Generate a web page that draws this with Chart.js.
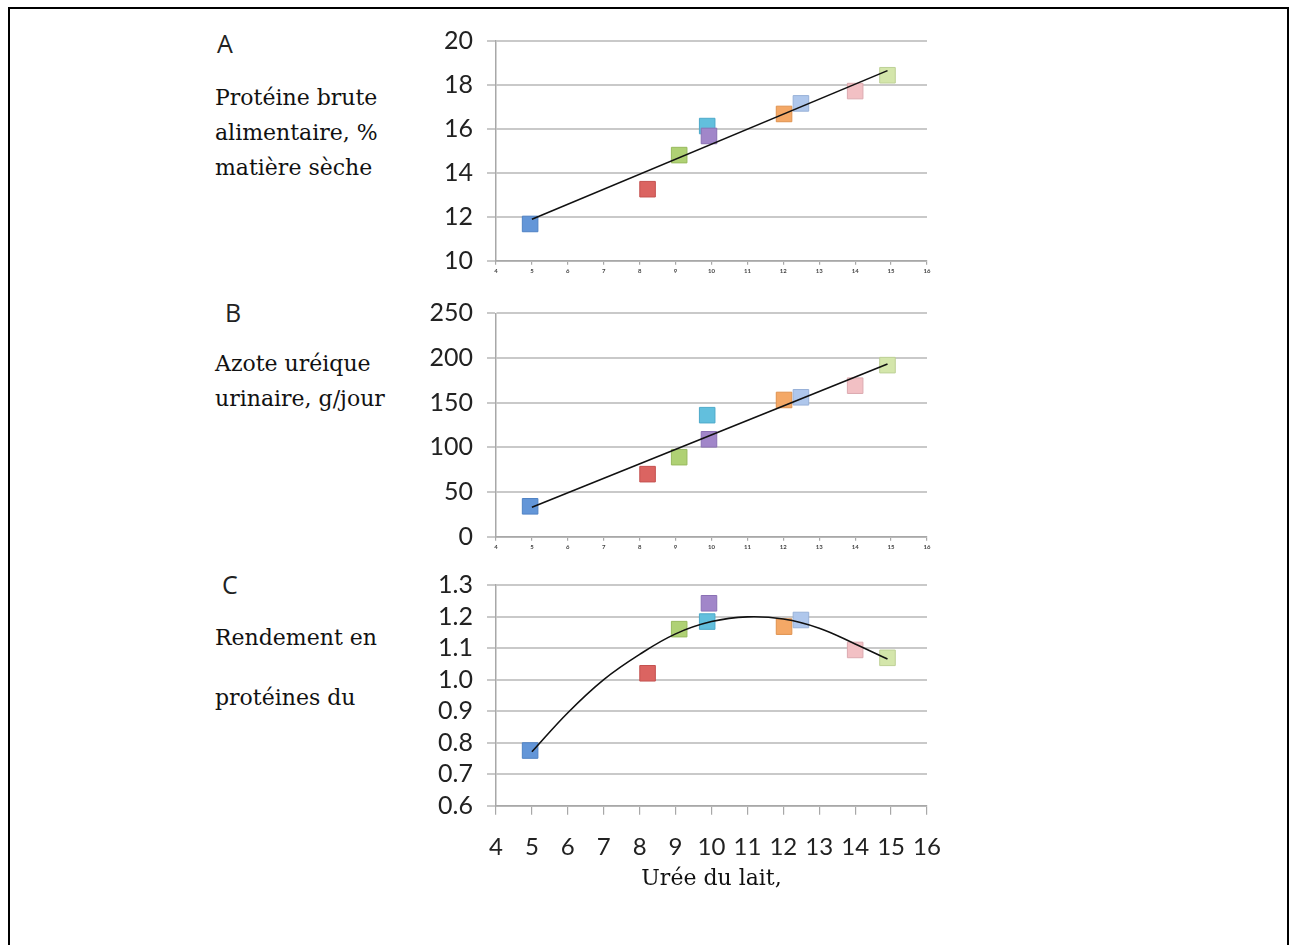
<!DOCTYPE html>
<html>
<head>
<meta charset="utf-8">
<script src="https://cdn.jsdelivr.net/npm/chart.js@4/dist/chart.umd.min.js"></script>
<style>
  body { margin: 0; background: #fff; width: 1294px; height: 945px; overflow: hidden; position: relative; }
  .frame { position: absolute; left: 8px; top: 7px; width: 1277px; height: 960px; border: 2px solid #000; }
  .box { position: absolute; }
  .letter { position: absolute; font-family: "Open Sans", sans-serif; font-size: 25px; line-height: 1; color: #222; }
  .lab { position: absolute; font-family: "DejaVu Serif", serif; font-size: 22px; line-height: 35px; color: #111; white-space: nowrap; }
</style>
</head>
<body>
<div class="frame"></div>

<div class="letter" style="left:217px; top:31px;">A</div>
<div class="lab" style="left:215px; top:80px;">Protéine brute<br>alimentaire, %<br>matière sèche</div>

<div class="letter" style="left:225px; top:300px;">B</div>
<div class="lab" style="left:215px; top:346px;">Azote uréique<br>urinaire, g/jour</div>

<div class="letter" style="left:222px; top:572px;">C</div>
<div class="lab" style="left:215px; top:620px;">Rendement en</div>
<div class="lab" style="left:215px; top:680px;">protéines du</div>

<div class="box" style="left:400px; top:20px; width:560px; height:270px;"><canvas id="chartA"></canvas></div>
<div class="box" style="left:400px; top:290px; width:560px; height:270px;"><canvas id="chartB"></canvas></div>
<div class="box" style="left:400px; top:560px; width:560px; height:340px;"><canvas id="chartC"></canvas></div>

<script>
// milk urea (x) for each herd point
const uree = [4.95, 8.22, 9.1, 9.88, 9.93, 12.02, 12.49, 14.0, 14.9];
const proteineBrute = [11.67, 13.25, 14.8, 16.12, 15.67, 16.67, 17.15, 17.71, 18.43];
const azoteUrinaire = [34, 70, 89, 136, 109, 153, 156, 169, 192];
const rendement = [0.775, 1.02, 1.16, 1.184, 1.242, 1.168, 1.189, 1.094, 1.069];

const pointColors = ['#6396d8', '#db6461', '#afd174', '#62bfdd', '#a186c9', '#f4a866', '#afc7ec', '#f2c0c4', '#d4e6ab'];
const pointBorders = ['#4f82c4', '#c45250', '#98ba5e', '#4eaaca', '#8a70b4', '#df924f', '#98b1d8', '#dcaab0', '#bed196'];

// trend lines
const trendAX = [5, 14.9];
const trendAY = [11.88, 18.64];
const trendBX = [5, 14.9];
const trendBY = [32.9, 193.2];
const curveCX = [5, 6, 7, 8, 9, 10, 11, 12, 13, 14, 14.9];
const curveCY = [0.771, 0.895, 1.0, 1.08, 1.145, 1.184, 1.199, 1.192, 1.163, 1.113, 1.065];

const xTicks = [4, 5, 6, 7, 8, 9, 10, 11, 12, 13, 14, 15, 16];

const toXY = (xs, ys) => xs.map((x, i) => ({ x: x, y: ys[i] }));

function makeChart(id, opts) {
    const ctx = document.getElementById(id).getContext('2d');
    return new Chart(ctx, {
        type: 'scatter',
        data: {
            datasets: [
                {
                    type: 'line',
                    data: toXY(opts.lineX, opts.lineY),
                    borderColor: '#111',
                    borderWidth: 1.6,
                    pointRadius: 0,
                    fill: false,
                    tension: opts.curved ? 0.4 : 0,
                },
                {
                    data: toXY(uree, opts.values),
                    pointStyle: 'rect',
                    pointRadius: 11,
                    pointHoverRadius: 11,
                    backgroundColor: pointColors,
                    borderColor: pointBorders,
                    borderWidth: 1,
                },
            ],
        },
        options: {
            responsive: true,
            maintainAspectRatio: false,
            animation: false,
            events: [],
            layout: { padding: { top: opts.padTop, right: 33, left: 0, bottom: 0 } },
            plugins: { legend: { display: false }, tooltip: { enabled: false } },
            scales: {
                x: {
                    type: 'linear',
                    min: 4,
                    max: 16,
                    afterBuildTicks: (s) => { s.ticks = xTicks.map(v => ({ value: v })); },
                    afterFit: (s) => { s.height = opts.xHeight; },
                    border: { display: true, color: '#a8a8a8', width: 1.5 },
                    grid: { drawOnChartArea: false, drawTicks: true, tickLength: opts.big ? 9 : 4, color: '#a8a8a8', lineWidth: 1.2 },
                    ticks: {
                        maxRotation: 0,
                        autoSkip: false,
                        padding: opts.big ? 18 : 3,
                        color: opts.big ? '#222' : '#444',
                        font: opts.big ? { family: 'Lato', size: 24 } : { family: 'Lato', size: 6, weight: 'bold' },
                    },
                    title: opts.big ? {
                        display: true,
                        text: 'Urée du lait,',
                        color: '#111',
                        font: { family: 'DejaVu Serif', size: 22 },
                        padding: { top: 0, bottom: 8 },
                    } : { display: false },
                },
                y: {
                    min: opts.min,
                    max: opts.max,
                    afterFit: (s) => { s.width = 96; s.paddingTop = 0; s.paddingBottom = 0; },
                    border: { display: true, color: '#a8a8a8', width: 1.5 },
                    grid: { color: '#c9c9c9', lineWidth: 2, tickLength: 9, drawTicks: true },
                    ticks: {
                        stepSize: opts.step,
                        autoSkip: false,
                        padding: 14,
                        color: '#222',
                        font: { family: 'Lato', size: 25 },
                        callback: opts.fmt,
                    },
                },
            },
        },
    });
}

makeChart('chartA', {
    values: proteineBrute, lineX: trendAX, lineY: trendAY,
    min: 10, max: 20, step: 2, padTop: 20.7, xHeight: 29.3,
    fmt: (v) => v,
});
makeChart('chartB', {
    values: azoteUrinaire, lineX: trendBX, lineY: trendBY,
    min: 0, max: 250, step: 50, padTop: 23.3, xHeight: 23.3,
    fmt: (v) => v,
});
makeChart('chartC', {
    values: rendement, lineX: curveCX, lineY: curveCY, curved: true,
    min: 0.6, max: 1.3, step: 0.1, padTop: 25, xHeight: 94.3, big: true,
    fmt: (v) => Number(v).toFixed(1),
});
</script>
</body>
</html>
